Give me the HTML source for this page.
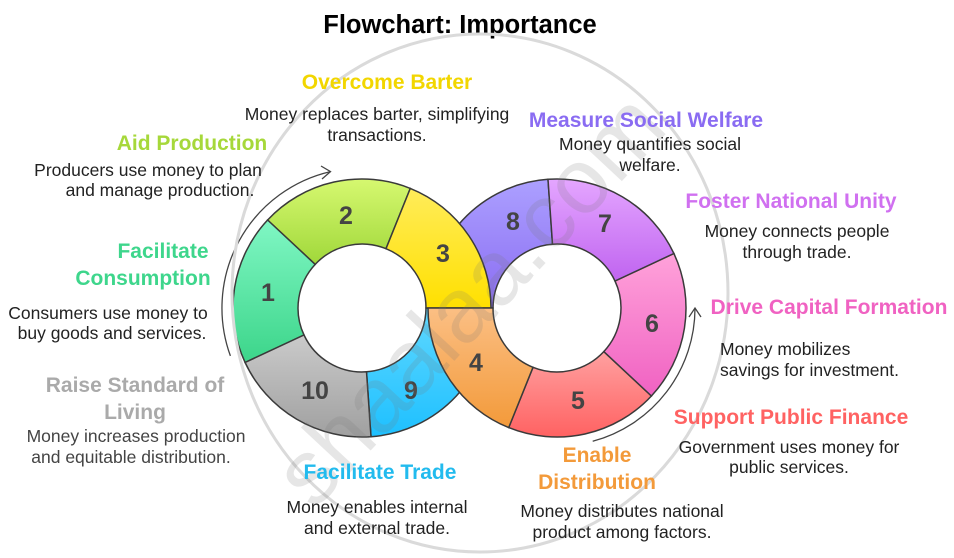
<!DOCTYPE html>
<html><head><meta charset="utf-8"><style>
html,body{margin:0;padding:0;background:#fff;}
svg{display:block;font-family:"Liberation Sans",sans-serif;}
.l{font-weight:bold;font-size:21px;text-anchor:middle;}
.d{font-size:17.5px;fill:#222;text-anchor:middle;}
.n{font-weight:bold;font-size:25px;fill:#444;text-anchor:middle;}
.s{stroke:#3a3a3a;stroke-width:1.5;}
</style></head><body>
<svg width="954" height="558" viewBox="0 0 954 558">
<defs>
<linearGradient id="g1" x1="0" y1="0" x2="0" y2="1"><stop offset="0" stop-color="#80f7c4"/><stop offset="1" stop-color="#3cd58a"/></linearGradient>
<linearGradient id="g2" x1="0" y1="0" x2="0" y2="1"><stop offset="0" stop-color="#d6f870"/><stop offset="1" stop-color="#a0d83a"/></linearGradient>
<linearGradient id="g3" x1="0" y1="0" x2="0" y2="1"><stop offset="0" stop-color="#ffec5a"/><stop offset="1" stop-color="#ffe000"/></linearGradient>
<linearGradient id="g4" x1="0" y1="0" x2="0" y2="1"><stop offset="0" stop-color="#fbbf84"/><stop offset="1" stop-color="#f39a3a"/></linearGradient>
<linearGradient id="g5" x1="0" y1="0" x2="0" y2="1"><stop offset="0" stop-color="#ffa0a0"/><stop offset="1" stop-color="#ff6262"/></linearGradient>
<linearGradient id="g6" x1="0" y1="0" x2="0" y2="1"><stop offset="0" stop-color="#ffa2da"/><stop offset="1" stop-color="#f062c2"/></linearGradient>
<linearGradient id="g7" x1="0" y1="0" x2="0" y2="1"><stop offset="0" stop-color="#e4a6ff"/><stop offset="1" stop-color="#c064f0"/></linearGradient>
<linearGradient id="g8" x1="0" y1="0" x2="0" y2="1"><stop offset="0" stop-color="#aca0ff"/><stop offset="1" stop-color="#8a6cf2"/></linearGradient>
<linearGradient id="g9" x1="0" y1="0" x2="0" y2="1"><stop offset="0" stop-color="#60d8ff"/><stop offset="1" stop-color="#1ec0ff"/></linearGradient>
<linearGradient id="g10" x1="0" y1="0" x2="0" y2="1"><stop offset="0" stop-color="#cacaca"/><stop offset="1" stop-color="#a0a0a0"/></linearGradient>
</defs>

<text x="460" y="33" style="font-weight:bold;font-size:25.5px;text-anchor:middle;fill:#000">Flowchart: Importance</text>

<path class="s" fill="url(#g8)" d="M428,308 A129,129 0 0 1 548.0,179.3 L552.5,244.2 A64,64 0 0 0 493,308 Z"/>
<path class="s" fill="url(#g9)" d="M491,308 A129,129 0 0 1 371.0,436.7 L366.5,371.8 A64,64 0 0 0 426,308 Z"/>
<path class="s" fill="url(#g2)" d="M267.6,220.0 A129,129 0 0 1 410.3,188.4 L386.0,248.7 A64,64 0 0 0 315.2,264.4 Z"/>
<path class="s" fill="url(#g1)" d="M245.1,362.5 A129,129 0 0 1 267.6,220.0 L315.2,264.4 A64,64 0 0 0 304.0,335.0 Z"/>
<path class="s" fill="url(#g10)" d="M371.0,436.7 A129,129 0 0 1 245.1,362.5 L304.0,335.0 A64,64 0 0 0 366.5,371.8 Z"/>
<path class="s" fill="url(#g5)" d="M651.4,396.0 A129,129 0 0 1 508.7,427.6 L533.0,367.3 A64,64 0 0 0 603.8,351.6 Z"/>
<path class="s" fill="url(#g6)" d="M673.9,253.5 A129,129 0 0 1 651.4,396.0 L603.8,351.6 A64,64 0 0 0 615.0,281.0 Z"/>
<path class="s" fill="url(#g7)" d="M548.0,179.3 A129,129 0 0 1 673.9,253.5 L615.0,281.0 A64,64 0 0 0 552.5,244.2 Z"/>
<path class="s" fill="url(#g3)" d="M410.3,188.4 A129,129 0 0 1 491,308 L426,308 A64,64 0 0 0 386.0,248.7 Z"/>
<path class="s" fill="url(#g4)" d="M508.7,427.6 A129,129 0 0 1 428,308 L493,308 A64,64 0 0 0 533.0,367.3 Z"/>

<g>
<text class="n" x="268" y="301">1</text>
<text class="n" x="346" y="224">2</text>
<text class="n" x="443" y="262">3</text>
<text class="n" x="476" y="371">4</text>
<text class="n" x="578" y="409">5</text>
<text class="n" x="652" y="332">6</text>
<text class="n" x="605" y="232">7</text>
<text class="n" x="513" y="230">8</text>
<text class="n" x="411" y="399">9</text>
<text class="n" x="315" y="399">10</text>
</g>

<path d="M230.4,355.9 A140,140 0 0 1 330.5,171.6" fill="none" stroke="#444" stroke-width="1.3"/>
<path d="M321,166 L330.5,171.6 L322,179" fill="none" stroke="#444" stroke-width="1.3"/>
<path d="M592.7,441.3 A138,138 0 0 0 695,308" fill="none" stroke="#444" stroke-width="1.3"/>
<path d="M689,317 L695,308 L701,317" fill="none" stroke="#444" stroke-width="1.3"/>

<ellipse cx="480" cy="293" rx="248" ry="259" fill="none" stroke="#dadada" stroke-width="3"/>
<text x="470" y="330" transform="rotate(-47 470 300)" style="font-size:92px;fill:#777;opacity:0.18;text-anchor:middle">shaalaa.com</text>

<text class="l" x="387" y="89" fill="#f2d600">Overcome Barter</text>
<text class="d" x="377" y="120">Money replaces barter, simplifying</text>
<text class="d" x="377" y="141">transactions.</text>

<text class="l" x="192" y="150" fill="#a6d83a">Aid Production</text>
<text class="d" x="148" y="176">Producers use money to plan</text>
<text class="d" x="160" y="196">and manage production.</text>

<text class="l" x="163" y="258" fill="#3ed68c">Facilitate</text>
<text class="l" x="143" y="285" fill="#3ed68c">Consumption</text>
<text class="d" x="108" y="319">Consumers use money to</text>
<text class="d" x="112" y="339">buy goods and services.</text>

<text class="l" x="135" y="392" fill="#aaaaaa">Raise Standard of</text>
<text class="l" x="135" y="419" fill="#aaaaaa">Living</text>
<text class="d" x="136" y="442" style="fill:#444">Money increases production</text>
<text class="d" x="131" y="463" style="fill:#444">and equitable distribution.</text>

<text class="l" x="380" y="479" fill="#22bbee">Facilitate Trade</text>
<text class="d" x="377" y="513">Money enables internal</text>
<text class="d" x="377" y="534">and external trade.</text>

<text class="l" x="597" y="462" fill="#f39a3a">Enable</text>
<text class="l" x="597" y="489" fill="#f39a3a">Distribution</text>
<text class="d" x="622" y="517">Money distributes national</text>
<text class="d" x="622" y="538">product among factors.</text>

<text class="l" x="791" y="424" fill="#ff6262">Support Public Finance</text>
<text class="d" x="789" y="453">Government uses money for</text>
<text class="d" x="789" y="473">public services.</text>

<text class="l" x="829" y="314" fill="#f062c2">Drive Capital Formation</text>
<text class="d" x="720" y="355" style="text-anchor:start">Money mobilizes</text>
<text class="d" x="720" y="376" style="text-anchor:start">savings for investment.</text>

<text class="l" x="791" y="208" fill="#d070f0">Foster National Unity</text>
<text class="d" x="797" y="237">Money connects people</text>
<text class="d" x="797" y="258">through trade.</text>

<text class="l" x="646" y="127" fill="#8a6cf2">Measure Social Welfare</text>
<text class="d" x="650" y="150">Money quantifies social</text>
<text class="d" x="650" y="171">welfare.</text>
</svg>
</body></html>
